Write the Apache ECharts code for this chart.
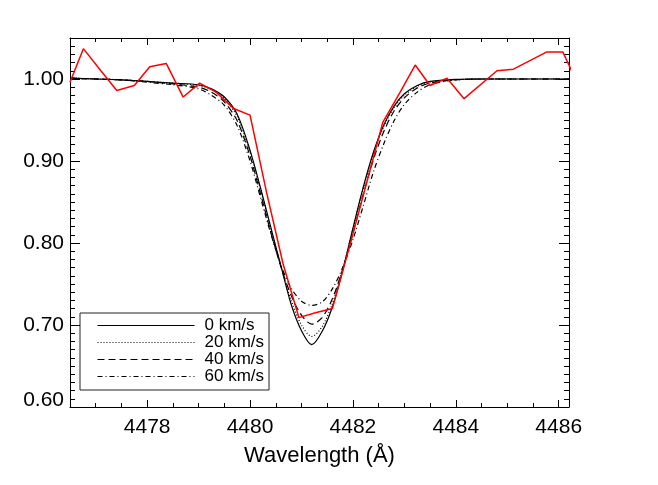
<!DOCTYPE html>
<html>
<head>
<meta charset="utf-8">
<title>Line profile 4481</title>
<script src="https://cdn.jsdelivr.net/npm/echarts@6/dist/echarts.min.js"></script>
<style>
  html, body { margin: 0; padding: 0; background: #fff; }
  #chart { width: 658px; height: 485px; }
</style>
</head>
<body>
<div id="chart"></div>
<script>
// observed spectrum (red)
const obsWave = [4476.50, 4476.76, 4477.10, 4477.41, 4477.75, 4478.05, 4478.37, 4478.70, 4479.02, 4479.34,
  4479.68, 4480.00, 4480.32, 4480.64, 4480.95, 4481.27, 4481.60, 4481.93, 4482.26, 4482.58,
  4482.91, 4483.21, 4483.50, 4483.83, 4484.16, 4484.80, 4485.12, 4485.77, 4486.08, 4486.42]
const obsFlux = [0.996, 1.037, 1.010, 0.986, 0.992, 1.015, 1.019, 0.978, 0.995, 0.984,
  0.964, 0.956, 0.862, 0.775, 0.709, 0.715, 0.720, 0.795, 0.872, 0.947,
  0.983, 1.017, 0.992, 1.001, 0.976, 1.010, 1.012, 1.033, 1.033, 0.987]

// model profiles
const modelWave = [4476.5, 4477.0, 4477.5, 4478.0, 4478.5, 4479.0, 4479.25, 4479.5, 4479.75, 4480.0,
  4480.2, 4480.4, 4480.6, 4480.8, 4481.0, 4481.2, 4481.4, 4481.6, 4481.8, 4482.0,
  4482.2, 4482.4, 4482.6, 4482.8, 4483.0, 4483.25, 4483.5, 4484.0, 4484.5, 4485.0,
  4485.5, 4486.0, 4486.2]
const flux0 = [1.001, 1.000, 0.999, 0.997, 0.995, 0.993, 0.988, 0.978, 0.957, 0.913,
  0.868, 0.820, 0.772, 0.725, 0.693, 0.676, 0.692, 0.722, 0.766, 0.818,
  0.868, 0.911, 0.944, 0.967, 0.982, 0.992, 0.997, 0.9995, 1.000, 1.000,
  1.000, 1.000, 1.000]
const flux20 = [1.001, 1.000, 0.999, 0.997, 0.995, 0.992, 0.987, 0.976, 0.954, 0.911,
  0.866, 0.818, 0.772, 0.730, 0.700, 0.686, 0.698, 0.726, 0.768, 0.817,
  0.866, 0.909, 0.942, 0.965, 0.980, 0.991, 0.996, 0.999, 1.000, 1.000,
  1.000, 1.000, 1.000]
const flux40 = [1.001, 1.000, 0.999, 0.997, 0.994, 0.990, 0.984, 0.972, 0.949, 0.906,
  0.861, 0.814, 0.771, 0.736, 0.712, 0.701, 0.709, 0.732, 0.768, 0.812,
  0.859, 0.902, 0.936, 0.961, 0.977, 0.989, 0.995, 0.999, 1.000, 1.000,
  1.000, 1.000, 1.000]
const flux60 = [1.001, 1.000, 0.999, 0.996, 0.993, 0.988, 0.980, 0.968, 0.943, 0.900,
  0.856, 0.812, 0.773, 0.745, 0.729, 0.724, 0.728, 0.744, 0.770, 0.804,
  0.845, 0.887, 0.921, 0.949, 0.969, 0.984, 0.993, 0.999, 1.000, 1.000,
  1.000, 1.000, 1.000]

const modelNames = ['0 km/s', '20 km/s', '40 km/s', '60 km/s']
const modelFlux = [flux0, flux20, flux40, flux60]
const modelDash = ['solid', [1, 2], [7, 4], [5, 3, 1, 3]]

const FONT = '"Liberation Sans", Arial, Helvetica, sans-serif'
const xMin = 4476.5, xMax = 4486.2
const yMin = 0.6, yMax = 1.05

const chart = echarts.init(document.getElementById('chart'))

const pairs = (xs, ys) => xs.map((x, i) => [x, ys[i]])
const frame = { show: true, lineStyle: { color: '#000', width: 1 } }

// major/minor tick axis helper (IDL style box with inward ticks)
const xAxisDef = (pos, major) => ({
  type: 'value', position: pos, min: xMin, max: xMax,
  ...(major ? { splitNumber: 5 } : { interval: 0.5 }),
  axisLine: major ? frame : { show: false },
  axisTick: { show: true, inside: true, length: major ? 7 : 4, lineStyle: { color: '#000', width: 1 } },
  axisLabel: { show: false },
  splitLine: { show: false }
})
const yAxisDef = (pos, major) => ({
  type: 'value', position: pos, min: yMin, max: yMax,
  interval: major ? 0.1 : 0.01,
  axisLine: major ? frame : { show: false },
  axisTick: { show: true, inside: true, length: major ? 10 : 5, lineStyle: { color: '#000', width: 1 } },
  axisLabel: { show: false },
  splitLine: { show: false }
})

const xAxes = [xAxisDef('bottom', true), xAxisDef('bottom', false), xAxisDef('top', true), xAxisDef('top', false)]
xAxes[0].axisLabel = {
  show: true, color: '#000', fontSize: 21, fontFamily: FONT, margin: 10,
  formatter: v => (Math.abs(v - Math.round(v)) < 1e-6 && Math.round(v) % 2 === 0) ? String(Math.round(v)) : ''
}
xAxes[0].name = 'Wavelength (Å)'
xAxes[0].nameLocation = 'middle'
xAxes[0].nameGap = 38
xAxes[0].nameTextStyle = { color: '#000', fontSize: 22, fontFamily: FONT }

const yAxes = [yAxisDef('left', true), yAxisDef('left', false), yAxisDef('right', true), yAxisDef('right', false)]
yAxes[0].axisLabel = {
  show: true, color: '#000', fontSize: 21, fontFamily: FONT, margin: 6,
  formatter: v => {
    const r = Math.round(v * 10) / 10
    if (Math.abs(v - r) > 1e-6 || r > 1.0001) return ''
    return r < 0.65 ? '{lo|' + r.toFixed(2) + '}' : r.toFixed(2)
  },
  rich: { lo: { color: '#000', fontSize: 21, fontFamily: FONT, padding: [0, 0, 14, 0] } }
}
yAxes[0].name = 'Normalized Flux'
yAxes[0].nameLocation = 'middle'
yAxes[0].nameGap = 67
yAxes[0].nameTextStyle = { color: '#000', fontSize: 22, fontFamily: FONT }

const series = modelNames.map((name, i) => ({
  name: name, type: 'line', xAxisIndex: 0, yAxisIndex: 0,
  data: pairs(modelWave, modelFlux[i]),
  symbol: 'none', smooth: 0.3, z: 3,
  color: '#000',
  lineStyle: { color: '#000', width: 1.2, type: modelDash[i] }
}))
series.push({
  name: 'observed', type: 'line', xAxisIndex: 0, yAxisIndex: 0,
  data: pairs(obsWave, obsFlux),
  symbol: 'none', z: 4,
  lineStyle: { color: '#ff0000', width: 1.5 }
})

chart.setOption({
  animation: false,
  backgroundColor: '#fff',
  grid: { left: 70, right: 89, top: 38, bottom: 78, containLabel: false, outerBoundsMode: 'none' },
  xAxis: xAxes,
  yAxis: yAxes,
  legend: {
    data: modelNames,
    orient: 'vertical',
    left: 80, top: 313,
    padding: [4, 5, 5, 17],
    itemWidth: 97, itemHeight: 14, itemGap: 0,
    borderColor: '#222', borderWidth: 1, borderRadius: 0,
    backgroundColor: '#fff',
    selectedMode: false,
    itemStyle: { opacity: 0 },
    lineStyle: { width: 1 },
    textStyle: { color: '#000', fontSize: 17, lineHeight: 17, fontFamily: FONT, padding: [0, 0, 0, 5] }
  },
  series: series
})
</script>
</body>
</html>
